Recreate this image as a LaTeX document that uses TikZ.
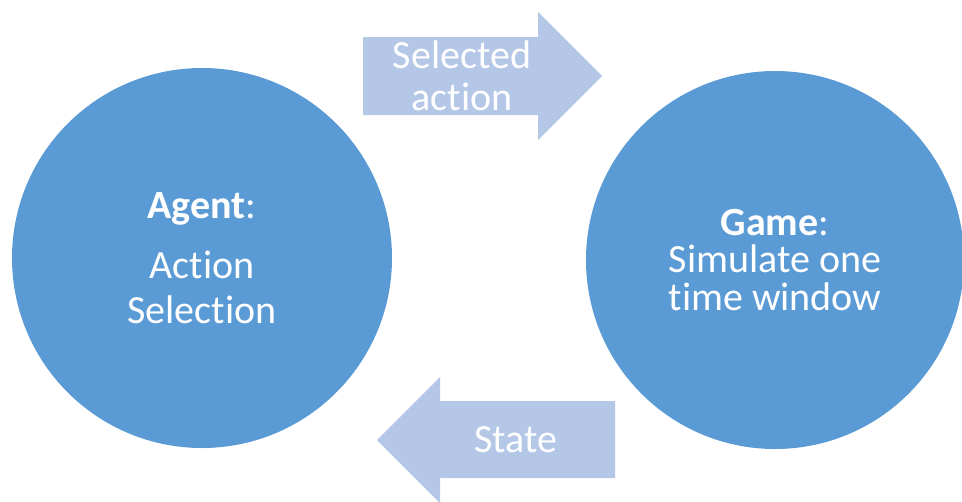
\documentclass[tikz,border=0pt]{standalone}
\usepackage{fontspec}
\setmainfont[Ligatures=NoCommon]{Carlito}
\definecolor{circblue}{HTML}{5B9BD5}
\definecolor{arrowblue}{HTML}{B4C7E7}
\begin{document}
\begin{tikzpicture}[x=0.75pt,y=-0.75pt,
    bubble/.style={circle,fill=circblue,inner sep=0pt,text=white,align=center,font=\fontsize{30}{34}\selectfont},
    arrowtext/.style={text=white,align=center,font=\fontsize{30}{34}\selectfont}]
\useasboundingbox (0,0) rectangle (962,501);

\node[bubble,minimum size=285pt] (agent) at (202,258) {\textbf{Agent}:\\[11pt]Action\\Selection};
\node[bubble,minimum size=283.5pt] (game) at (775,260) {\textbf{Game}:\\[-6pt]Simulate one\\[-6pt]time window};

% selected action, agent -> game
\fill[arrowblue] (363,37) -- (538,37) -- (538,12) -- (602,76) -- (538,140) -- (538,115) -- (363,115) -- cycle;
\node[arrowtext] (selected) at (462,76) {Selected\\[-2.5pt]action};

% state, game -> agent
\fill[arrowblue] (615,401) -- (440,401) -- (440,377) -- (377,440) -- (440,503) -- (440,478) -- (615,478) -- cycle;
\node[arrowtext] (state) at (516,440) {State};

\end{tikzpicture}
\end{document}
